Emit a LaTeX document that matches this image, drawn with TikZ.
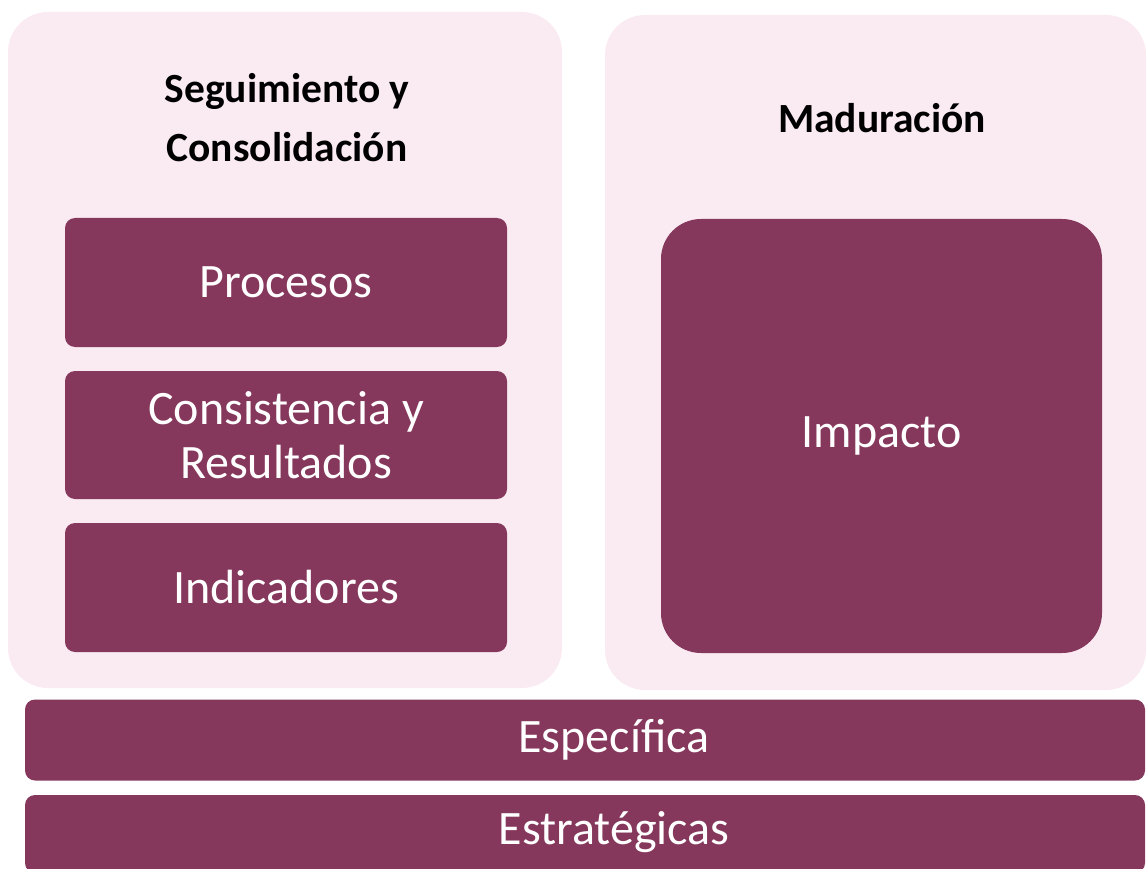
\documentclass[tikz,border=0pt]{standalone}
\usepackage{fontspec}
\setmainfont{Carlito}
\definecolor{plum}{RGB}{134,56,92}
\definecolor{blush}{RGB}{250,235,243}
\tikzset{
  panel/.style={fill=blush, rounded corners=40pt, inner sep=0pt},
  card/.style={fill=plum, text=white, rounded corners=10pt, inner sep=0pt,
    align=center, font=\fontsize{48}{54}\selectfont},
  cardtext/.style={text=white, inner sep=0pt, font=\fontsize{48}{54}\selectfont},
  heading/.style={align=center, font=\bfseries\fontsize{41.5}{59}\selectfont}
}

\begin{document}
\begin{tikzpicture}[x=1pt,y=-1pt]
    \useasboundingbox (0,0) rectangle (1146,869);

% two stages
\node[panel, minimum width=554pt, minimum height=676pt] (seguimiento) at (285,350) {};
\node[panel, minimum width=541pt, minimum height=675pt] (maduracion) at (875.5,352.5) {};

\node[heading] (titleseg) at (287,118) {Seguimiento y\\Consolidación};
\node[heading] (titlemad) at (882,118) {Maduración};

% evaluations
\node[card, minimum width=442pt, minimum height=129pt] (procesos) at (286,282.5) {Procesos};
\node[card, minimum width=442pt, minimum height=128pt] (consistencia) at (286,435) {Consistencia y\\Resultados};
\node[card, minimum width=442pt, minimum height=129pt] (indicadores) at (286,587.5) {Indicadores};
\node[card, rounded corners=40pt, minimum width=441pt, minimum height=434pt] (impacto) at (881.5,436) {Impacto};

% bars
\node[card, minimum width=1120pt, minimum height=81pt] (especifica) at (585,740) {};
\node[card, minimum width=1120pt, minimum height=78pt] (estrategicas) at (585,834) {};
\node[cardtext] (especificatext) at (614,740) {Específica};
\node[cardtext] (estrategicastext) at (614,832) {Estratégicas};
  \end{tikzpicture}
\end{document}
